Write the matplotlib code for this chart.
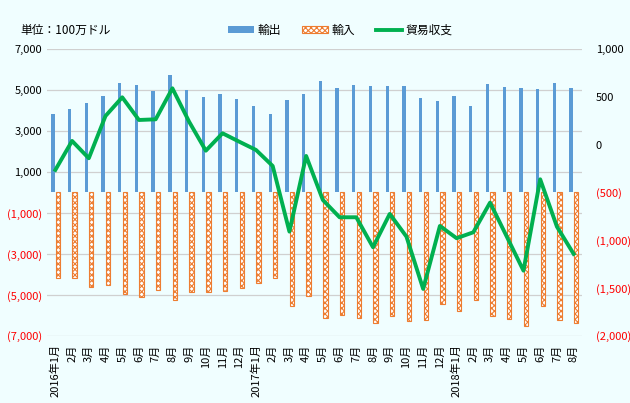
import matplotlib
matplotlib.use('Agg')
import matplotlib.pyplot as plt
import numpy as np
from matplotlib.ticker import FuncFormatter, FixedLocator

plt.rcParams['font.family'] = ['Noto Sans CJK JP', 'DejaVu Sans']
plt.rcParams['hatch.linewidth'] = 0.8

# month labels, 2016/1 .. 2018/8
months = ['2016年1月', '2月', '3月', '4月', '5月', '6月', '7月', '8月', '9月', '10月', '11月', '12月',
          '2017年1月', '2月', '3月', '4月', '5月', '6月', '7月', '8月', '9月', '10月', '11月', '12月',
          '2018年1月', '2月', '3月', '4月', '5月', '6月', '7月', '8月']

# 100万ドル
exports = [3830, 4070, 4380, 4720, 5360, 5260, 4970, 5750, 5000, 4680, 4820, 4580,
           4240, 3850, 4530, 4820, 5450, 5110, 5260, 5210, 5210, 5210, 4620, 4480,
           4720, 4230, 5310, 5160, 5110, 5060, 5360, 5110]
imports = [-4150, -4150, -4590, -4490, -4930, -5080, -4740, -5230, -4840, -4840, -4790, -4640,
           -4400, -4150, -5520, -5030, -6100, -5960, -6100, -6350, -6010, -6250, -6200, -5420,
           -5760, -5230, -6010, -6150, -6500, -5520, -6200, -6350]
balance = [-264, 39, -142, 300, 495, 258, 265, 589, 240, -63, 119, 31,
           -55, -223, -909, -118, -578, -759, -759, -1072, -724, -961, -1508, -850,
           -978, -916, -606, -961, -1317, -362, -857, -1142]

bg = '#F0FEFF'
blue = '#5B9BD5'
orange = '#ED7D31'
green = '#00B050'


def fmt(v, pos):
    if v < 0:
        return '({:,.0f})'.format(-v)
    return '{:,.0f}'.format(v)


fig = plt.figure(figsize=(6.3, 4.03), dpi=100, facecolor=bg)
ax = fig.add_axes([0.0746, 0.1663, 0.8492, 0.7121])
ax.set_facecolor(bg)
x = np.arange(len(months))

b1 = ax.bar(x - 0.15, exports, width=0.2, color=blue, label='輸出', zorder=2)
b2 = ax.bar(x + 0.15, imports, width=0.26, color='white', edgecolor=orange,
            hatch='xxxxxx', linewidth=0.8, label='輸入', zorder=2)

ax.set_ylim(-7000, 7000)
ax.set_xlim(-0.5, len(months) - 0.5)
ax.yaxis.set_major_locator(FixedLocator([7000, 5000, 3000, 1000, -1000, -3000, -5000, -7000]))
ax.yaxis.set_major_formatter(FuncFormatter(fmt))
ax.grid(axis='y', color='#D0D0D0', linewidth=0.9, zorder=0)
ax.set_axisbelow(True)
ax.set_xticks(x)
ax.set_xticklabels(months, rotation=90, fontsize=8)
ax.tick_params(length=0, labelsize=8)
ax.tick_params(axis='x', pad=6)
for s in ax.spines.values():
    s.set_visible(False)

ax2 = ax.twinx()
l1, = ax2.plot(x, balance, color=green, linewidth=2.8, label='貿易収支', zorder=3)
ax2.set_ylim(-2000, 1000)
ax2.yaxis.set_major_locator(FixedLocator([1000, 500, 0, -500, -1000, -1500, -2000]))
ax2.yaxis.set_major_formatter(FuncFormatter(fmt))
ax2.tick_params(length=0, labelsize=8, pad=10)
for s in ax2.spines.values():
    s.set_visible(False)

# negative values shown in red
fig.canvas.draw()
for lbl in ax.get_yticklabels() + ax2.get_yticklabels():
    if lbl.get_text().startswith('('):
        lbl.set_color('#FF0000')

fig.text(0.032, 0.925, '単位：100万ドル', fontsize=8.5, va='center')
fig.legend(handles=[b1, b2, l1], loc='center', bbox_to_anchor=(0.54, 0.925), ncol=3,
           frameon=False, fontsize=8.5, handlelength=2.2, handleheight=0.6,
           columnspacing=1.8, handletextpad=0.3)

fig.savefig('out.png', dpi=100, facecolor=bg)
